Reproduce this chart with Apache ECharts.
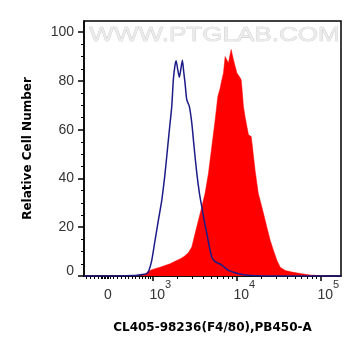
<!DOCTYPE html>
<html>
<head>
<meta charset="utf-8">
<script src="https://cdn.jsdelivr.net/npm/echarts@6/dist/echarts.min.js"></script>
<style>
html,body{margin:0;padding:0;background:#fff;}
#chart{width:361px;height:356px;}
</style>
</head>
<body>
<div id="chart"></div>
<script>
// x values are in display decades (3 = 10^3, 4 = 10^4, 5 = 10^5); "0" sits at 2.472
var xMin = 2.186, xMax = 5.247;
var zeroPos = 2.472;
var xLabelValues = [2.472, 3, 4, 5];
var xLowTicks = [2.209, 2.257, 2.305, 2.352, 2.388, 2.406, 2.424, 2.442, 2.460, 2.478, 2.496,
  2.537, 2.585, 2.633, 2.674, 2.716, 2.758, 2.800, 2.841, 2.877, 2.913, 2.949, 2.979];
var yMajor = [0, 20, 40, 60, 80, 100];
var yMinor = [5, 10, 15, 25, 30, 35, 45, 50, 55, 65, 70, 75, 85, 90, 95];

// control (blue outline)
var controlX = [2.186, 2.615, 2.770, 2.853, 2.901, 2.933, 2.961, 2.993, 3.032, 3.072, 3.112, 3.151,
  3.179, 3.203, 3.231, 3.250, 3.268, 3.283, 3.301, 3.322, 3.340, 3.358, 3.373, 3.390, 3.410, 3.441,
  3.470, 3.497, 3.530, 3.561, 3.589, 3.617, 3.649, 3.680, 3.708, 3.748, 3.787, 3.828, 3.867, 3.906,
  3.962, 4.026, 4.141, 4.284, 4.523, 5.247];
var controlY = [0, 0, 0.2, 0.5, 0.7, 0.9, 2.5, 6.4, 14.6, 22.9, 31, 42,
  51.7, 60, 69.5, 80.5, 86, 88.3, 85, 81.5, 85, 88.5, 84, 79, 72.3, 69.5,
  62.7, 53, 42, 33.9, 28.3, 22.9, 17.4, 11.9, 7.7, 5.9, 5.2, 4.5, 3.3, 2.3,
  1.6, 0.9, 0.3, 0.1, 0, 0];

// sample (red filled)
var sampleX = [2.186, 2.853, 2.901, 2.973, 3.032, 3.092, 3.151, 3.211, 3.270, 3.330, 3.378, 3.429,
  3.470, 3.509, 3.549, 3.589, 3.628, 3.668, 3.708, 3.748, 3.780, 3.807, 3.825, 3.847, 3.867, 3.887,
  3.906, 3.921, 3.939, 3.951, 3.966, 3.986, 4.007, 4.022, 4.034, 4.058, 4.070, 4.085, 4.106, 4.126,
  4.145, 4.177, 4.189, 4.205, 4.225, 4.245, 4.261, 4.284, 4.324, 4.364, 4.404, 4.443, 4.484, 4.523,
  4.583, 4.662, 4.782, 4.881, 5.000, 5.119, 5.247];
var sampleY = [0, 0, 0.5, 2.3, 3, 3.6, 4.3, 5, 6, 7, 8, 9.5,
  11.9, 17.4, 22.9, 28.3, 33.9, 42, 53, 64, 73.6, 77, 80, 83.3, 90, 90.8,
  87.4, 90, 92.9, 91, 88.7, 86, 83.3, 83, 81.9, 80.5, 76, 69.5, 65, 61.3,
  57.9, 57.2, 54, 49, 43, 38, 34, 31, 25.6, 20, 14.6, 10.5, 6.4, 3.6,
  2.3, 1.6, 0.9, 0.4, 0.1, 0, 0];

function zip(a, b) { return a.map(function (v, i) { return [v, b[i]]; }); }

var xMinorTicks = xLowTicks.slice();
[3, 4].forEach(function (d) {
  for (var k = 2; k <= 9; k++) xMinorTicks.push(d + Math.log10(k));
});

var font = 'Liberation Sans, Arial, sans-serif';
var titleFont = 'DejaVu Sans, sans-serif';
var chart = echarts.init(document.getElementById('chart'), null, { renderer: 'canvas' });
chart.setOption({
  animation: false,
  backgroundColor: '#fff',
  grid: { left: 84, right: 20, top: 21, bottom: 80, show: true, borderColor: '#000', borderWidth: 1.5, backgroundColor: 'transparent' },
  graphic: [{
    type: 'text', left: 89, top: 24, z: 0, scaleX: 1.24,
    style: { text: 'WWW.PTGLAB.COM', font: '21px ' + font, fill: '#ececec', stroke: '#c4c4c4', lineWidth: 0.6 }
  }],
  xAxis: [{
    type: 'value', min: xMin, max: xMax, position: 'bottom',
    name: 'CL405-98236(F4/80),PB450-A', nameLocation: 'middle', nameGap: 46,
    nameTextStyle: { fontFamily: titleFont, fontWeight: 'bold', fontSize: 12, color: '#000' },
    axisLine: { show: true, onZero: false, lineStyle: { color: '#000', width: 1.5 } },
    axisTick: { show: true, length: 5, customValues: [3, 4, 5], lineStyle: { color: '#000', width: 1.5 } },
    splitLine: { show: false },
    axisLabel: {
      customValues: xLabelValues, margin: 7, color: '#333',
      formatter: function (v) {
        if (Math.abs(v - zeroPos) < 0.01) return '{n|0}';
        return '{sp| }{n|10}{s|' + Math.round(v) + '}';
      },
      rich: {
        n: { fontFamily: font, fontSize: 14, color: '#333', lineHeight: 16, padding: [8, 0, 0, 0] },
        s: { fontFamily: font, fontSize: 11, color: '#333', lineHeight: 12, padding: [0, 0, 12, 0] },
        sp: { width: 16, fontSize: 11 }
      }
    }
  }, {
    type: 'value', min: xMin, max: xMax, position: 'bottom',
    axisLine: { show: false, onZero: false },
    axisTick: { show: true, length: 3, customValues: xMinorTicks, lineStyle: { color: '#000', width: 1 } },
    axisLabel: { show: false }, splitLine: { show: false }
  }],
  yAxis: [{
    type: 'value', min: 0, max: 104.6, position: 'left',
    name: 'Relative Cell Number', nameLocation: 'middle', nameGap: 50, nameRotate: 90,
    nameTextStyle: { fontFamily: titleFont, fontWeight: 'bold', fontSize: 12, color: '#000' },
    axisLine: { show: true, onZero: false, lineStyle: { color: '#000', width: 1.5 } },
    axisTick: { show: true, length: 6, customValues: yMajor, lineStyle: { color: '#000', width: 1.5 } },
    axisLabel: {
      customValues: yMajor, margin: 10, fontFamily: font, fontSize: 14, color: '#333',
      formatter: function (v) { return v === 0 ? '{z|0}' : '{y|' + v + '}'; },
      rich: {
        z: { fontFamily: font, fontSize: 14, color: '#333', padding: [0, 0, 10, 0] },
        y: { fontFamily: font, fontSize: 14, color: '#333' }
      }
    },
    splitLine: { show: false }
  }, {
    type: 'value', min: 0, max: 104.6, position: 'left',
    axisLine: { show: false, onZero: false },
    axisTick: { show: true, length: 3, customValues: yMinor, lineStyle: { color: '#000', width: 1 } },
    axisLabel: { show: false }, splitLine: { show: false }
  }],
  series: [{
    type: 'line', xAxisIndex: 0, yAxisIndex: 0, data: zip(sampleX, sampleY),
    showSymbol: false, symbol: 'none', smooth: false,
    lineStyle: { color: '#ff0000', width: 0.5 },
    areaStyle: { color: '#ff0000', opacity: 1 }, z: 2
  }, {
    type: 'line', xAxisIndex: 0, yAxisIndex: 0, data: zip(controlX, controlY),
    showSymbol: false, symbol: 'none', smooth: 0.2,
    lineStyle: { color: '#1c1c88', width: 1.5 }, z: 3
  }]
});
</script>
</body>
</html>
